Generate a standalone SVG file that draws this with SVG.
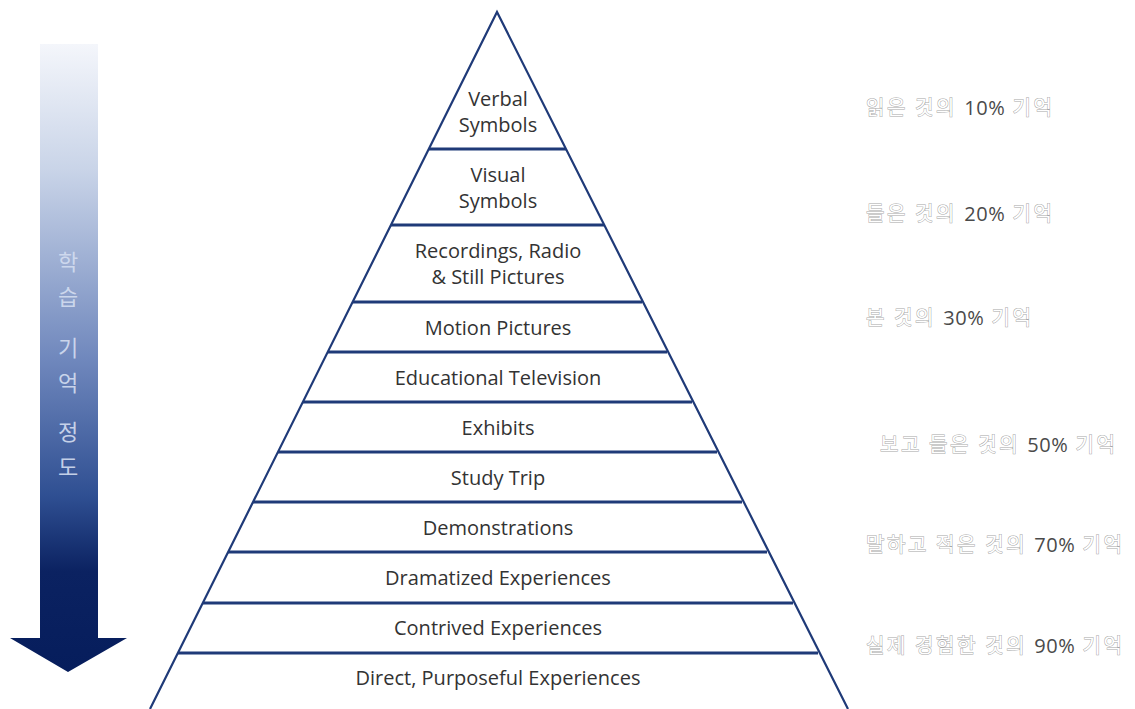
<svg xmlns="http://www.w3.org/2000/svg" width="1135" height="709" viewBox="0 0 1135 709">
  <defs>
    <linearGradient id="arrowFill" x1="0" y1="44" x2="0" y2="672" gradientUnits="userSpaceOnUse">
      <stop offset="0" stop-color="#f4f6fb"/>
      <stop offset="0.2" stop-color="#c9d4e8"/>
      <stop offset="0.5" stop-color="#7088bd"/>
      <stop offset="0.72" stop-color="#2f4f92"/>
      <stop offset="0.84" stop-color="#0b2261"/>
      <stop offset="1" stop-color="#061d5c"/>
    </linearGradient>
    <style>
      .edge { fill: none; stroke: #1f3a78; stroke-width: 2.2; }
      .tier { stroke: #1f3a78; stroke-width: 3; }
      .lbl { font-family: "Open Sans", "Noto Sans", sans-serif; font-size: 20px; fill: #333; text-anchor: middle; }
      .side { font-family: "Noto Sans CJK KR", "Noto Sans", sans-serif; font-size: 20px; letter-spacing: 2.6px; fill: #fff; stroke: #a8a8a8; stroke-width: 1; paint-order: stroke; }
      .pct { fill: #4a4a4a; stroke: none; letter-spacing: 0.6px; font-family: "Open Sans", "Noto Sans CJK KR", sans-serif; }
      .vert { font-family: "Noto Sans CJK KR", sans-serif; font-size: 22px; fill: #d3ddf0; text-anchor: middle; opacity: 0.9; }
    </style>
  </defs>

  <!-- downward arrow with gradient -->
  <g id="retention-arrow">
    <path d="M40,44 H98 V638 H127 L68,672 L10,638 H40 Z" fill="url(#arrowFill)"/>
    <text class="vert" x="68" y="270">학</text>
    <text class="vert" x="68" y="305">습</text>
    <text class="vert" x="68" y="356">기</text>
    <text class="vert" x="68" y="391">억</text>
    <text class="vert" x="68" y="440">정</text>
    <text class="vert" x="68" y="475">도</text>
  </g>

  <!-- pyramid outline and tier dividers -->
  <g id="connectors">
    <polyline class="edge" points="150,709 497,12 848,709"/>
    <line class="tier" x1="429" y1="149" x2="566" y2="149"/>
    <line class="tier" x1="391" y1="225" x2="604" y2="225"/>
    <line class="tier" x1="353" y1="302" x2="642" y2="302"/>
    <line class="tier" x1="328" y1="352" x2="667" y2="352"/>
    <line class="tier" x1="303" y1="402" x2="692" y2="402"/>
    <line class="tier" x1="278" y1="452" x2="717" y2="452"/>
    <line class="tier" x1="253" y1="502" x2="742" y2="502"/>
    <line class="tier" x1="228" y1="552" x2="767" y2="552"/>
    <line class="tier" x1="203" y1="603" x2="793" y2="603"/>
    <line class="tier" x1="178" y1="653" x2="818" y2="653"/>
  </g>

  <g id="tier-verbal"><text class="lbl" x="498" y="106">Verbal</text><text class="lbl" x="498" y="132">Symbols</text></g>
  <g id="tier-visual"><text class="lbl" x="498" y="182">Visual</text><text class="lbl" x="498" y="208">Symbols</text></g>
  <g id="tier-recordings"><text class="lbl" x="498" y="258">Recordings, Radio</text><text class="lbl" x="498" y="284">&amp; Still Pictures</text></g>
  <g id="tier-motion"><text class="lbl" x="498" y="335">Motion Pictures</text></g>
  <g id="tier-tv"><text class="lbl" x="498" y="385">Educational Television</text></g>
  <g id="tier-exhibits"><text class="lbl" x="498" y="435">Exhibits</text></g>
  <g id="tier-trip"><text class="lbl" x="498" y="485">Study Trip</text></g>
  <g id="tier-demo"><text class="lbl" x="498" y="535">Demonstrations</text></g>
  <g id="tier-dramatized"><text class="lbl" x="498" y="585">Dramatized Experiences</text></g>
  <g id="tier-contrived"><text class="lbl" x="498" y="635">Contrived Experiences</text></g>
  <g id="tier-direct"><text class="lbl" x="498" y="685">Direct, Purposeful Experiences</text></g>

  <!-- retention notes -->
  <g id="note-10"><text class="side" x="866" y="115">읽은 것의 <tspan class="pct">10%</tspan> 기억</text></g>
  <g id="note-20"><text class="side" x="866" y="221">들은 것의 <tspan class="pct">20%</tspan> 기억</text></g>
  <g id="note-30"><text class="side" x="866" y="325">본 것의 <tspan class="pct">30%</tspan> 기억</text></g>
  <g id="note-50"><text class="side" x="880" y="452">보고 들은 것의 <tspan class="pct">50%</tspan> 기억</text></g>
  <g id="note-70"><text class="side" x="866" y="552">말하고 적은 것의 <tspan class="pct">70%</tspan> 기억</text></g>
  <g id="note-90"><text class="side" x="866" y="653">실제 경험한 것의 <tspan class="pct">90%</tspan> 기억</text></g>
</svg>
